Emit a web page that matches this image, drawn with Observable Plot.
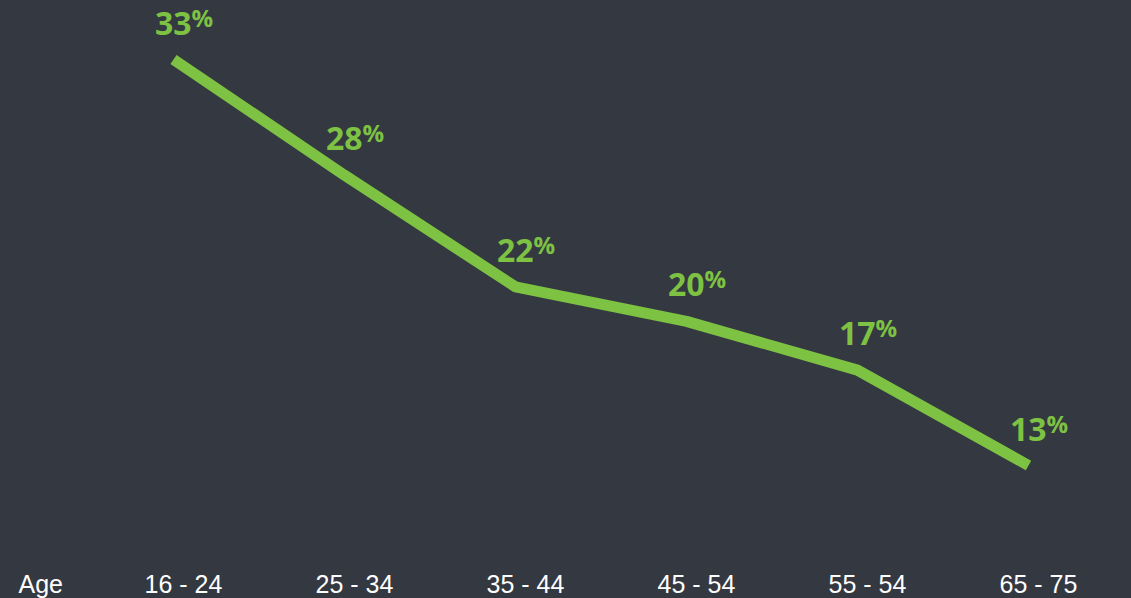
<!DOCTYPE html>
<html>
<head>
<meta charset="utf-8">
<script src="https://cdn.jsdelivr.net/npm/d3@7"></script>
<script src="https://cdn.jsdelivr.net/npm/@observablehq/plot@0.6"></script>
<style>
  html, body { margin: 0; padding: 0; background: #343841; }
  #chart svg { display: block; }
</style>
</head>
<body>
<div id="chart"></div>
<script>
const ages = ["16 - 24", "25 - 34", "35 - 44", "45 - 54", "55 - 54", "65 - 75"];
const shares = [33, 27.3, 21.8, 20.1, 17.7, 13];
const labels = ["33", "28", "22", "20", "17", "13"];
const axisTitle = "Age";

const data = ages.map((age, i) => ({age, share: shares[i], label: labels[i]}));

const green = "#7dc242";
const labelFont = "'Open Sans', Lato, sans-serif";

const chart = Plot.plot({
  width: 1131,
  height: 598,
  marginTop: 0,
  marginRight: 0,
  marginBottom: 30,
  marginLeft: 18,
  style: {background: "#343841", color: "#ffffff", fontFamily: "'Liberation Sans', Arial, sans-serif", fontSize: "25px"},
  x: {type: "point", domain: ages, range: [171, 1029], padding: 0, label: null},
  y: {domain: [13, 33], range: [465, 59], axis: null},
  marks: [
    Plot.line(data, {x: "age", y: "share", stroke: green, strokeWidth: 11, strokeLinecap: "butt", strokeLinejoin: "miter"}),
    Plot.text(data, {x: "age", y: "share", text: "label", textAnchor: "end", dx: 18, dy: -25 - 0.32 * 32,
      fill: green, fontSize: 32, fontWeight: "bold", fontFamily: labelFont}),
    Plot.text(data, {x: "age", y: "share", text: () => "%", textAnchor: "start", dx: 18, dy: -33 - 0.32 * 24,
      fill: green, fontSize: 24, fontWeight: "bold", fontFamily: labelFont}),
    Plot.axisX({tickSize: 0, tickPadding: 7, dx: 10, fontSize: 25, fill: "#ffffff", label: null}),
    Plot.text([axisTitle], {frameAnchor: "bottom-left", textAnchor: "start", lineAnchor: "top", dy: 7,
      fontSize: 25, fill: "#ffffff"})
  ]
});
document.getElementById("chart").appendChild(chart);
</script>
</body>
</html>
